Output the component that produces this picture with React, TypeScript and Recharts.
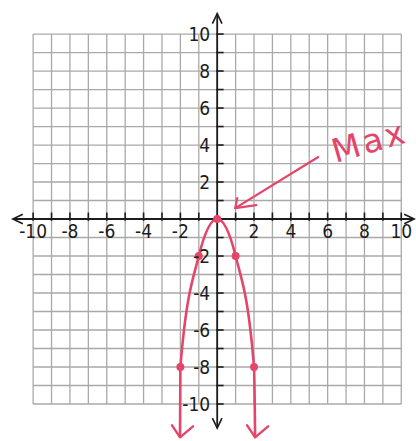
import { LineChart, Line, XAxis, YAxis, ReferenceLine, ReferenceDot } from "recharts";

const RED = "#e4466a";
const INK = "#1c1c1c";
const GRID = "#a9a9a9";

// plotted curve y = -2x^2, with arrow ends below the grid
const CURVE_X = [-2.02, -2, -1, 0, 1, 2, 2.06];
const CURVE_Y = [-11.8, -8, -2, 0, -2, -8, -11.8];
const POINT_KIND = ["arrow", "dot", "dot", "dot", "dot", "dot", "arrow"];

const GRID_LINES = [-10, -9, -8, -7, -6, -5, -4, -3, -2, -1, 0, 1, 2, 3, 4, 5, 6, 7, 8, 9, 10];
const TICKS = [-10, -9, -8, -7, -6, -5, -4, -3, -2, -1, 1, 2, 3, 4, 5, 6, 7, 8, 9, 10];
const X_LABELS = [-10, -8, -6, -4, -2, 2, 4, 6, 8, 10];
const Y_LABELS = [10, 8, 6, 4, 2, -2, -4, -6, -8, -10];

const X_AXIS_ENDS = [-11.1, 10.7];
const Y_AXIS_ENDS = [-11.3, 11.1];

const MAX_ARROW = [
  { x: 5.49, y: 3.35 },
  { x: 0.98, y: 0.59 },
];
const MAX_NOTE = { x: 8.3, y: 4.1, text: "Max" };

const data = CURVE_X.map((x, i) => ({ x, y: CURVE_Y[i], kind: POINT_KIND[i] }));

function arms(x1: number, y1: number, x2: number, y2: number, len: number, spread: number) {
  const ang = Math.atan2(y2 - y1, x2 - x1) + Math.PI;
  const a = ang - spread;
  const b = ang + spread;
  return `M ${x2 + len * Math.cos(a)} ${y2 + len * Math.sin(a)} L ${x2} ${y2} L ${x2 + len * Math.cos(b)} ${y2 + len * Math.sin(b)}`;
}

function AxisShape(p: any) {
  const { x1, y1, x2, y2 } = p;
  return (
    <g>
      <line x1={x1} y1={y1} x2={x2} y2={y2} stroke={INK} strokeWidth={1.8} />
      <path d={arms(x1, y1, x2, y2, 11, 0.45)} fill="none" stroke={INK} strokeWidth={1.6} />
      <path d={arms(x2, y2, x1, y1, 11, 0.45)} fill="none" stroke={INK} strokeWidth={1.6} />
    </g>
  );
}

function NoteArrow(p: any) {
  const { x1, y1, x2, y2 } = p;
  return (
    <g>
      <line x1={x1} y1={y1} x2={x2} y2={y2} stroke={RED} strokeWidth={2.2} strokeLinecap="round" />
      <path
        d={`M ${x2 + 2} ${y2 - 10} L ${x2} ${y2} L ${x2 + 21} ${y2 - 3}`}
        fill="none"
        stroke={RED}
        strokeWidth={2.2}
        strokeLinecap="round"
        strokeLinejoin="round"
      />
    </g>
  );
}

const renderDot = (props: any) => {
  const { cx, cy, index, payload } = props;
  if (payload.kind === "arrow") {
    return (
      <polyline
        key={`pt-${index}`}
        points={`${cx - 8},${cy - 12} ${cx},${cy} ${cx + 13},${cy - 11}`}
        fill="none"
        stroke={RED}
        strokeWidth={2.4}
        strokeLinecap="round"
        strokeLinejoin="round"
      />
    );
  }
  return <circle key={`pt-${index}`} cx={cx} cy={cy} r={4} fill={RED} />;
};

const labelStyle = {
  fill: INK,
  fontSize: 19,
  fontFamily: "'Liberation Sans Narrow', 'DejaVu Sans Condensed', 'Liberation Sans', Arial, sans-serif",
};

export default function App() {
  return (
    <div style={{ position: "absolute", left: 0, top: 0, width: 416, height: 441, background: "#fff" }}>
      <LineChart width={416} height={441} data={data} margin={{ top: 0, right: 0, bottom: 0, left: 0 }}>
        <XAxis type="number" dataKey="x" domain={[-11.8, 10.8]} allowDataOverflow hide />
        <YAxis type="number" domain={[-12, 11.84]} allowDataOverflow hide />

        {GRID_LINES.map((k) => (
          <ReferenceLine
            key={`gv${k}`}
            segment={[{ x: k, y: -10 }, { x: k, y: 10 }]}
            stroke={GRID}
            strokeWidth={1.3}
          />
        ))}
        {GRID_LINES.map((k) => (
          <ReferenceLine
            key={`gh${k}`}
            segment={[{ x: -10, y: k }, { x: 10, y: k }]}
            stroke={GRID}
            strokeWidth={1.3}
          />
        ))}

        <ReferenceLine
          segment={[{ x: X_AXIS_ENDS[0], y: 0 }, { x: X_AXIS_ENDS[1], y: 0 }]}
          shape={(p: any) => <AxisShape {...p} />}
        />
        <ReferenceLine
          segment={[{ x: 0, y: Y_AXIS_ENDS[0] }, { x: 0, y: Y_AXIS_ENDS[1] }]}
          shape={(p: any) => <AxisShape {...p} />}
        />

        {TICKS.map((k) => (
          <ReferenceLine
            key={`tx${k}`}
            segment={[{ x: k, y: -0.1 }, { x: k, y: 0.35 }]}
            stroke={INK}
            strokeWidth={1.6}
          />
        ))}
        {TICKS.map((k) => (
          <ReferenceLine
            key={`ty${k}`}
            segment={[{ x: -0.05, y: k }, { x: 0.35, y: k }]}
            stroke={INK}
            strokeWidth={1.6}
          />
        ))}

        {X_LABELS.map((k) => (
          <ReferenceDot
            key={`lx${k}`}
            x={k}
            y={0}
            r={0}
            fill="none"
            stroke="none"
            label={{ value: String(k), position: "bottom", offset: 5, ...labelStyle }}
          />
        ))}
        {Y_LABELS.map((k) => (
          <ReferenceDot
            key={`ly${k}`}
            x={0}
            y={k}
            r={0}
            fill="none"
            stroke="none"
            label={{ value: String(k), position: "left", offset: 7, ...labelStyle }}
          />
        ))}

        <Line
          type="monotone"
          dataKey="y"
          stroke={RED}
          strokeWidth={2.6}
          dot={renderDot}
          activeDot={false}
          isAnimationActive={false}
        />

        <ReferenceLine segment={MAX_ARROW} shape={(p: any) => <NoteArrow {...p} />} />
        <ReferenceDot
          x={MAX_NOTE.x}
          y={MAX_NOTE.y}
          r={0}
          fill="none"
          stroke="none"
          label={({ viewBox }: any) => (
            <text
              x={viewBox.x}
              y={viewBox.y}
              textAnchor="middle"
              dominantBaseline="middle"
              fill={RED}
              fontSize={33}
              letterSpacing={3}
              fontFamily="DejaVu Sans"
              transform={`rotate(-16 ${viewBox.x} ${viewBox.y})`}
            >
              {MAX_NOTE.text}
            </text>
          )}
        />
      </LineChart>
    </div>
  );
}
